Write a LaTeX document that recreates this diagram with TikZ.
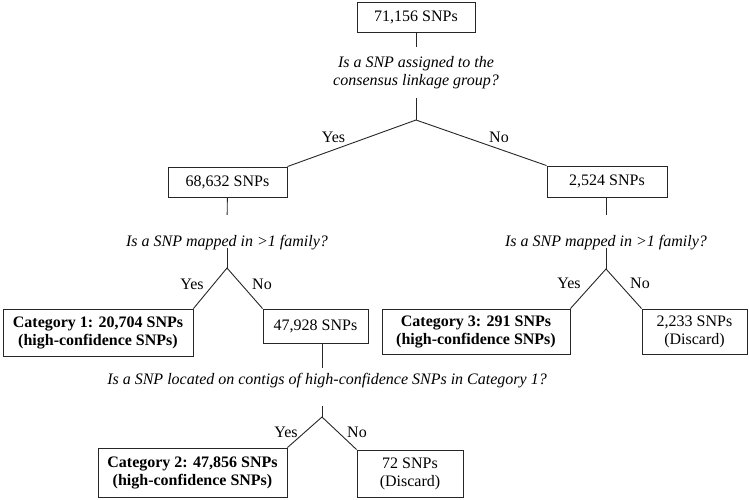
\documentclass[tikz,border=0pt]{standalone}
\usepackage{fontspec}
\setmainfont{Liberation Serif}
\usepackage{tikz}

\begin{document}
\begin{tikzpicture}[x=1pt, y=-1pt,
		box_style/.style={rectangle,draw=black!85,line width=0.9pt,inner sep=0pt,align=center,font=\fontsize{16}{18}\selectfont},
		cat_style/.style={box_style,font=\fontsize{16}{18}\selectfont\bfseries},
		q_style/.style={inner sep=0pt,align=center,font=\fontsize{16}{18}\selectfont\itshape},
		label_style/.style={inner sep=0pt,font=\fontsize{16}{18}\selectfont},
		edge_style/.style={draw=black!85,line width=0.9pt}]

		\useasboundingbox (0,0) rectangle (749,500);

		% boxes
		\node[box_style,minimum width=118pt,minimum height=30pt] (n71156) at (416,17) {71,156 SNPs};
		\node[box_style,minimum width=119pt,minimum height=30pt] (n68632) at (227.5,182) {68,632 SNPs};
		\node[box_style,minimum width=120pt,minimum height=31pt] (n2524) at (607,181.5) {2,524 SNPs};
		\node[cat_style,minimum width=190pt,minimum height=47pt] (cat1) at (98,332.5) {Category 1: 20,704 SNPs\\(high-confidence SNPs)};
		\node[box_style,minimum width=105pt,minimum height=34pt] (n47928) at (315.5,326) {47,928 SNPs};
		\node[cat_style,minimum width=188pt,minimum height=45pt] (cat3) at (476,331.5) {Category 3: 291 SNPs\\(high-confidence SNPs)};
		\node[box_style,minimum width=105pt,minimum height=45pt] (n2233) at (694.5,331.5) {2,233 SNPs\\(Discard)};
		\node[cat_style,minimum width=189pt,minimum height=49pt] (cat2) at (192.5,472.5) {Category 2: 47,856 SNPs\\(high-confidence SNPs)};
		\node[box_style,minimum width=106pt,minimum height=47pt] (n72) at (410,473.5) {72 SNPs\\(Discard)};

		% questions
		\node[q_style,inner ysep=9.5pt] (q1) at (416,72.5) {Is a SNP assigned to the\\consensus linkage group?};
		\node[q_style,text height=31pt,text depth=2pt,anchor=base] (q2) at (227,246) {Is a SNP mapped in >1 family?};
		\node[q_style,text height=31pt,text depth=2pt,anchor=base] (q4) at (606,246) {Is a SNP mapped in >1 family?};
		\node[q_style,text height=16pt,text depth=22pt,anchor=base] (q3) at (327,384) {Is a SNP located on contigs of high-confidence SNPs in Category 1?};

		% branch points
		\coordinate (a1) at (416,120);
		\coordinate (a2) at (227,268);
		\coordinate (a4) at (606,269);
		\coordinate (a3) at (322,417);

		% yes / no
		\node[label_style] (y1) at (333.5,137) {Yes};
		\node[label_style] (no1) at (499,137) {No};
		\node[label_style] (y2) at (192,284) {Yes};
		\node[label_style] (no2) at (262,284) {No};
		\node[label_style] (y4) at (569,283) {Yes};
		\node[label_style] (no4) at (640,283) {No};
		\node[label_style] (y3) at (286,432) {Yes};
		\node[label_style] (no3) at (357,432) {No};

		\draw[edge_style] (n71156) -- (q1);
		\draw[edge_style] (q1) -- (a1);
		\draw[edge_style] (n68632.north east) -- (a1) -- (n2524.north west);
		\draw[edge_style] (n68632) -- (q2);
		\draw[edge_style] (q2) -- (a2);
		\draw[edge_style] (cat1.north east) -- (a2) -- (n47928.north west);
		\draw[edge_style] (n2524.south -| a4) -- (q4.north -| a4);
		\draw[edge_style] (q4.south -| a4) -- (a4);
		\draw[edge_style] (cat3.north east) -- (a4) -- (n2233.north west);
		\draw[edge_style] (n47928.south -| a3) -- (q3.north -| a3);
		\draw[edge_style] (q3.south -| a3) -- (a3);
		\draw[edge_style] (cat2.north east) -- (a3) -- (n72.north west);

\end{tikzpicture}
\end{document}
